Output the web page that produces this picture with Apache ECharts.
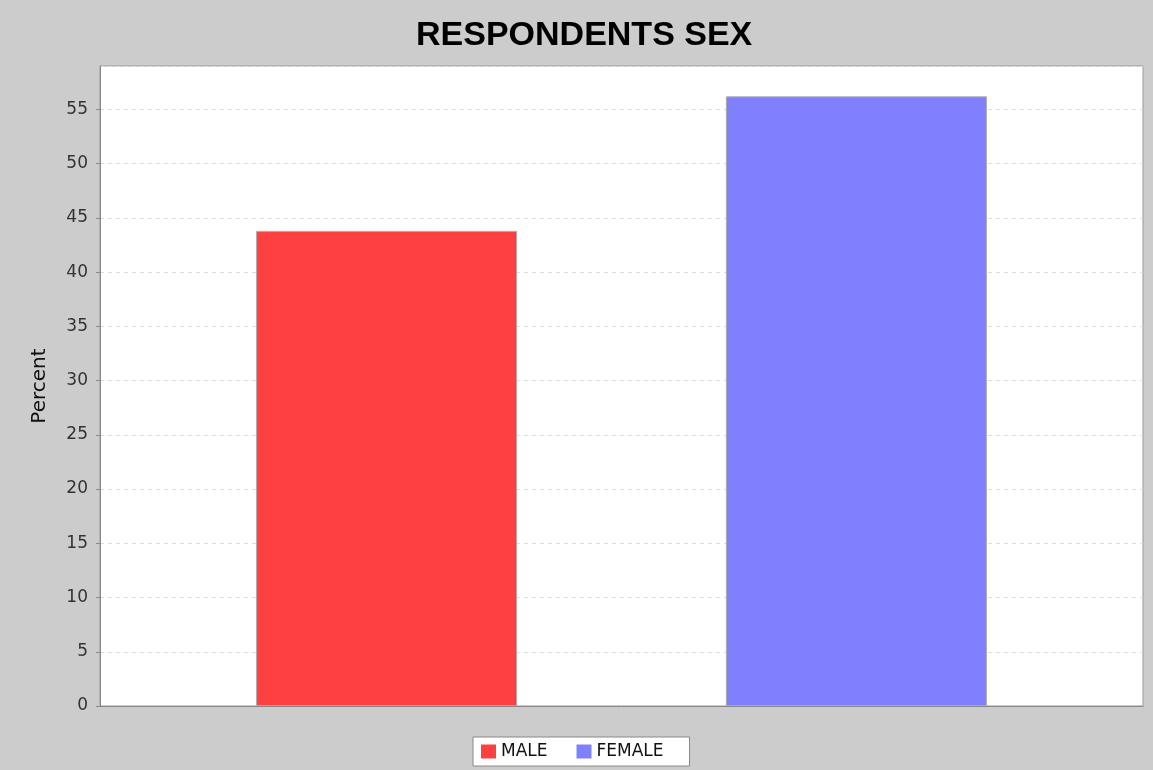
<!DOCTYPE html>
<html>
<head>
<meta charset="utf-8">
<script src="https://cdn.jsdelivr.net/npm/echarts@6/dist/echarts.min.js"></script>
<style>
  html, body { margin: 0; padding: 0; background: #cccccc; }
  #chart { width: 1153px; height: 770px; }
</style>
</head>
<body>
<div id="chart"></div>
<script>
const categories = ['']
const seriesNames = ['MALE', 'FEMALE']
const maleValues = [43.8]
const femaleValues = [56.2]
const seriesColors = ['#ff4040', '#8080ff']

const chart = echarts.init(document.getElementById('chart'))

const barStyle = (color) => ({
  color: color,
  borderColor: '#aaaaaa',
  borderWidth: 1
})

chart.setOption({
  backgroundColor: '#cccccc',
  animation: false,
  title: {
    text: 'RESPONDENTS SEX',
    left: 411,
    top: 14,
    textStyle: {
      fontFamily: 'Liberation Sans',
      fontSize: 34,
      fontWeight: 'bold',
      color: '#000000'
    }
  },
  grid: {
    left: 100,
    right: 10,
    top: 66,
    bottom: 64,
    show: true,
    backgroundColor: '#ffffff',
    borderColor: '#999999',
    borderWidth: 1
  },
  legend: {
    data: seriesNames,
    bottom: 4,
    left: 473,
    icon: 'rect',
    itemWidth: 15,
    itemHeight: 14,
    itemGap: 29,
    padding: [6, 26, 6, 8],
    backgroundColor: '#ffffff',
    borderColor: '#888888',
    borderWidth: 1,
    itemStyle: { borderWidth: 0 },
    textStyle: {
      fontFamily: 'DejaVu Sans',
      fontSize: 17,
      color: '#111111'
    }
  },
  xAxis: {
    type: 'category',
    data: categories,
    axisLine: { lineStyle: { color: '#888888' } },
    axisTick: { show: false },
    axisLabel: { show: false }
  },
  yAxis: {
    type: 'value',
    min: 0,
    max: 59,
    interval: 5,
    name: 'Percent',
    nameLocation: 'middle',
    nameGap: 50,
    nameTextStyle: {
      fontFamily: 'DejaVu Sans',
      fontSize: 20,
      color: '#111111'
    },
    axisLine: { show: true, lineStyle: { color: '#888888' } },
    axisTick: { show: true, length: 4, lineStyle: { color: '#888888' } },
    axisLabel: {
      showMaxLabel: false,
      margin: 12,
      fontFamily: 'DejaVu Sans',
      fontSize: 17,
      color: '#333333'
    },
    splitLine: {
      lineStyle: { color: '#dddddd', type: [4, 4] }
    }
  },
  series: [
    {
      name: seriesNames[0],
      type: 'bar',
      data: maleValues,
      barWidth: 261,
      barGap: '80%',
      itemStyle: barStyle(seriesColors[0])
    },
    {
      name: seriesNames[1],
      type: 'bar',
      data: femaleValues,
      barWidth: 261,
      itemStyle: barStyle(seriesColors[1])
    }
  ]
})
</script>
</body>
</html>
